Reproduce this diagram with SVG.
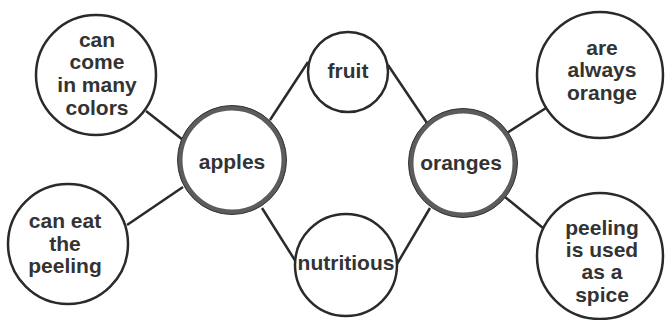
<svg xmlns="http://www.w3.org/2000/svg" width="665" height="320" viewBox="0 0 665 320">
<style>
.c{fill:#fff;stroke:#2a2a2a;stroke-width:2.5}
.m{fill:#fff;stroke:#5c5c5c;stroke-width:5}
.mo{fill:none;stroke:#333;stroke-width:1}
.l{stroke:#2a2a2a;stroke-width:2.5;fill:none}
text{font-family:"Liberation Sans",Arial,sans-serif;font-weight:bold;font-size:21px;fill:#333;text-anchor:middle}
</style>
<rect width="665" height="320" fill="#fff"/>
<g id="connectors">
<line class="l" x1="146" y1="111" x2="183" y2="140"/>
<line class="l" x1="270" y1="120" x2="308" y2="62"/>
<line class="l" x1="183" y1="187" x2="127" y2="225"/>
<line class="l" x1="262" y1="208" x2="296" y2="262"/>
<line class="l" x1="388" y1="65" x2="427" y2="123"/>
<line class="l" x1="507" y1="133" x2="546" y2="108"/>
<line class="l" x1="430" y1="208" x2="397" y2="264"/>
<line class="l" x1="505" y1="197" x2="543" y2="228"/>
</g>
<g id="colors">
<circle class="c" cx="96" cy="75" r="60"/>
<text x="97" y="47">can</text>
<text x="97" y="69">come</text>
<text x="97" y="92">in many</text>
<text x="97" y="115">colors</text>
</g>
<g id="eat">
<circle class="c" cx="68" cy="244" r="60"/>
<text x="65" y="228">can eat</text>
<text x="65" y="251">the</text>
<text x="65" y="273">peeling</text>
</g>
<g id="apples">
<circle class="m" cx="232" cy="160" r="52"/>
<circle class="mo" cx="232" cy="160" r="54.5"/>
<text x="232" y="169">apples</text>
</g>
<g id="fruit">
<circle class="c" cx="348" cy="72" r="40"/>
<text x="348" y="78">fruit</text>
</g>
<g id="nutritious">
<circle class="c" cx="346" cy="265" r="51"/>
<text x="346" y="270">nutritious</text>
</g>
<g id="oranges">
<circle class="m" cx="463" cy="163" r="52"/>
<circle class="mo" cx="463" cy="163" r="54.5"/>
<text x="461" y="170">oranges</text>
</g>
<g id="orange">
<circle class="c" cx="600" cy="75" r="63"/>
<text x="602" y="55">are</text>
<text x="602" y="77">always</text>
<text x="602" y="100">orange</text>
</g>
<g id="spice">
<circle class="c" cx="600" cy="256" r="63"/>
<text x="602" y="235">peeling</text>
<text x="602" y="257">is used</text>
<text x="602" y="279">as a</text>
<text x="602" y="302">spice</text>
</g>
</svg>
